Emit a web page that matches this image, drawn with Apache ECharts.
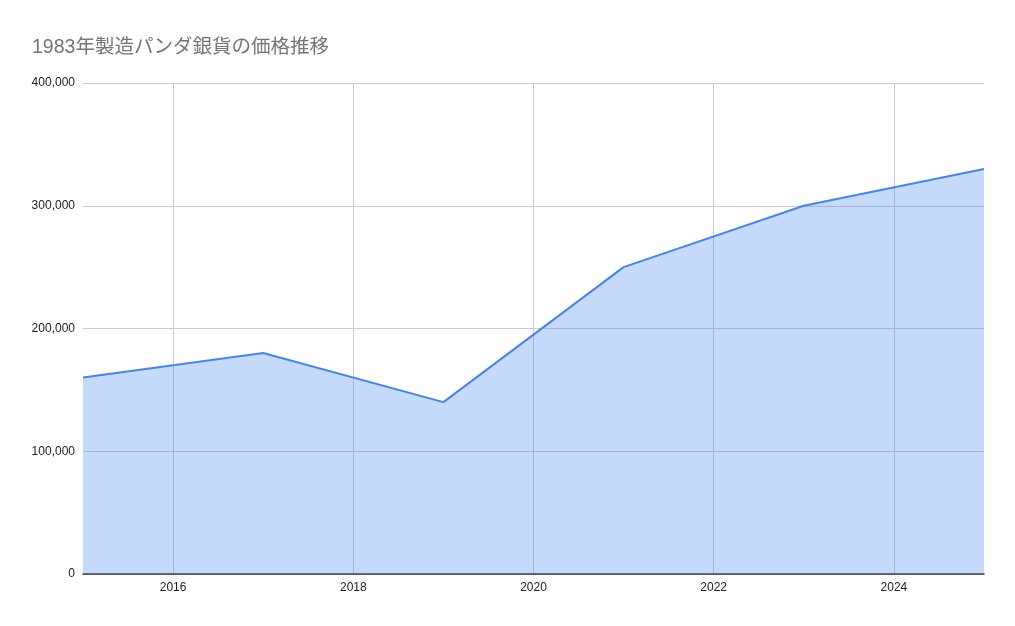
<!DOCTYPE html>
<html>
<head>
<meta charset="utf-8">
<script src="https://cdn.jsdelivr.net/npm/echarts@6/dist/echarts.min.js"></script>
<style>
html,body{margin:0;padding:0;background:#fff;}
#main{width:1015px;height:626px;}
</style>
</head>
<body>
<div id="main"></div>
<script>
// 年（横軸）
var years = ["2015","2016","2017","2018","2019","2020","2021","2022","2023","2024","2025"];
// 価格（データは奇数年のみ、偶数年は null）
var prices = [160000, null, 180000, null, 140000, null, 250000, null, 300000, null, 330000];
var yTicks = [0, 100000, 200000, 300000, 400000];

var myChart = echarts.init(document.getElementById("main"));
var evenYear = function (index) { return index % 2 === 1; };

var option = {
    animation: false,
    title: {
        text: "1983年製造パンダ銀貨の価格推移",
        left: 27,
        top: 33,
        textStyle: {
            color: "#757575",
            fontSize: 19.5,
            fontWeight: "normal",
            fontFamily: "'Liberation Sans', Arial, 'Noto Sans CJK JP', sans-serif"
        }
    },
    grid: {
        left: 83,
        right: 31,
        top: 83,
        bottom: 52,
        containLabel: false
    },
    xAxis: {
        type: "category",
        data: years,
        boundaryGap: false,
        axisLine: { show: true, lineStyle: { color: "#333333", width: 1.5 } },
        axisTick: { show: false },
        axisLabel: {
            interval: evenYear,
            color: "#222222",
            fontSize: 12,
            fontFamily: "'Liberation Sans', Arial, sans-serif",
            margin: 8
        },
        splitLine: {
            show: true,
            interval: evenYear,
            lineStyle: { color: "#cccccc", width: 1 }
        }
    },
    yAxis: {
        type: "value",
        min: yTicks[0],
        max: yTicks[yTicks.length - 1],
        interval: 100000,
        axisLine: { show: false },
        axisTick: { show: false },
        axisLabel: {
            color: "#222222",
            fontSize: 12,
            fontFamily: "'Liberation Sans', Arial, sans-serif",
            margin: 8,
            padding: [3, 0, 0, 0],
            formatter: function (v) { return v.toLocaleString("en-US"); }
        },
        splitLine: { lineStyle: { color: "#cccccc", width: 1 } }
    },
    series: [{
        type: "line",
        data: prices,
        connectNulls: true,
        showSymbol: false,
        symbol: "none",
        lineStyle: { color: "#4285F4", width: 2 },
        areaStyle: { color: "#4285F4", opacity: 0.3 },
        z: 1
    }]
};
myChart.setOption(option);
</script>
</body>
</html>
